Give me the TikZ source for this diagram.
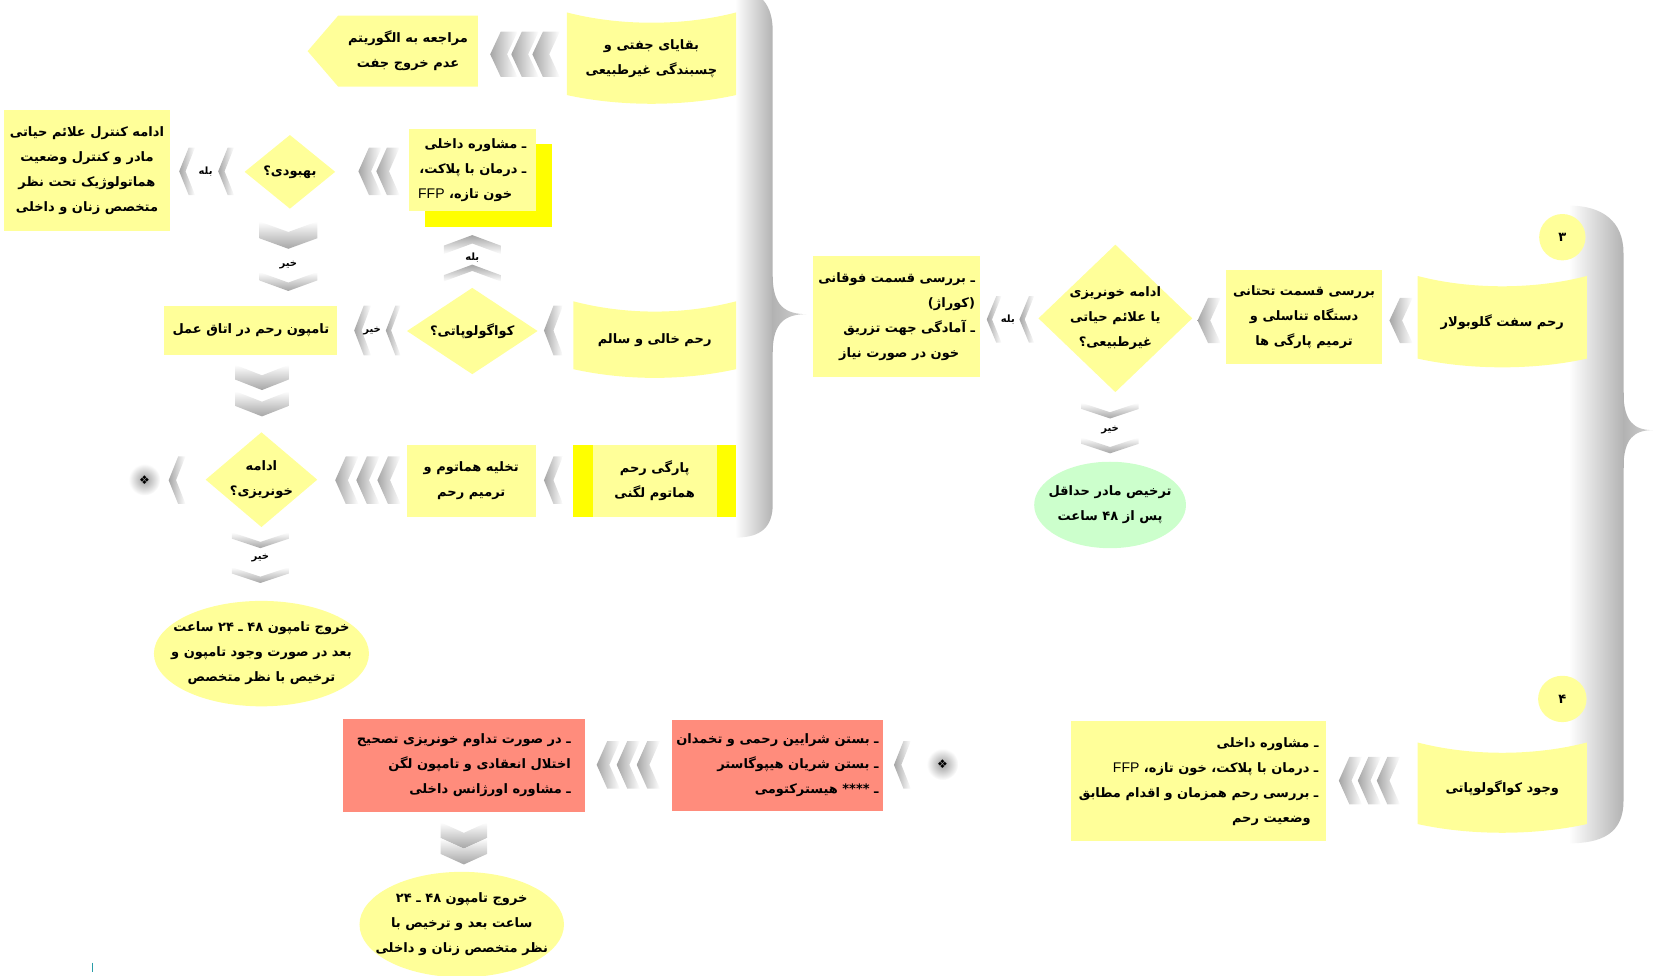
\documentclass[tikz,border=0pt]{standalone}
\usepackage{fontspec}
\usetikzlibrary{shapes.geometric,calc}
\TeXXeTstate=1
\newfontfamily\fa[Script=Arabic]{DejaVu Sans}
\newfontfamily\djv{DejaVu Sans}
\newfontfamily\lat{Liberation Sans}
\newcommand{\rl}[1]{\beginR #1\endR}
\newcommand{\ffp}{\beginL{\lat\mdseries\fontsize{14}{25}\selectfont FFP}\endL}
\definecolor{lyel}{HTML}{FFFF99}
\definecolor{byel}{HTML}{FFFF00}
\definecolor{salm}{HTML}{FF8C7C}
\definecolor{lgrn}{HTML}{CCFFCC}
\definecolor{tealmark}{HTML}{2A9DA8}
\pgfdeclarelayer{bg}
\pgfsetlayers{bg,main}
\tikzset{
  txt/.style={font=\fa\bfseries\fontsize{13}{25}\selectfont, inner sep=0pt, text=black},
  lbl/.style={font=\fa\bfseries\fontsize{10}{12}\selectfont, inner sep=0pt, text=black},
  sz/.style 2 args={minimum width={#1*1.0542pt}, minimum height={#2*1.0542pt}},
  yb/.style={txt, fill=lyel},
  rb/.style={txt, fill=salm},
  dia/.style={diamond, fill=lyel, inner sep=0pt},
  ell/.style={ellipse, fill=lyel, inner sep=0pt},
  banner/.style={txt, align=center},
  chL/.style={left color=gray!70, right color=white},
  chD/.style={top color=white, bottom color=gray!70},
  chU/.style={top color=gray!70, bottom color=white},
  glow/.style={inner color=gray!75, outer color=white},
}
% chevron pointing left: tip x, mid y, length, half height, notch depth
\newcommand{\chL}[5]{\shade[chL] (#1,#2) -- ++(#5,-#4) -- ++({#3-#5},0) -- ++(-#5,#4) -- ++(#5,#4) -- ++({#5-#3},0) -- cycle;}
% chevron pointing down: mid x, tip y, length, half width, notch depth
\newcommand{\chD}[5]{\shade[chD] (#1,#2) -- ++(-#4,-#5) -- ++(0,{#5-#3}) -- ++(#4,#5) -- ++(#4,-#5) -- ++(0,{#3-#5}) -- cycle;}
% chevron pointing up: mid x, tip y, length, half width, notch depth
\newcommand{\chU}[5]{\shade[chU] (#1,#2) -- ++(-#4,#5) -- ++(0,{#3-#5}) -- ++(#4,-#5) -- ++(#4,#5) -- ++(0,{#5-#3}) -- cycle;}
% wavy banner behind a node
\newcommand{\bannerbg}[1]{\fill[lyel] ($(#1.north west)+(0,-10)$) .. controls ($(#1.north west)+(50,3)$) and ($(#1.north east)+(-50,3)$) .. ($(#1.north east)+(0,-10)$) -- (#1.south east) .. controls ($(#1.south east)+(-50,11)$) and ($(#1.south west)+(50,11)$) .. (#1.south west) -- cycle;}

\begin{document}
\begin{tikzpicture}[x=1.0542pt,y=-1.0542pt]
\useasboundingbox (0,0) rectangle (1568,925);

% ---------- left column ----------
\node[banner, sz={160}{68}] (bq) at (618,56) {\rl{بقایای جفتی و}\\\rl{چسبندگی غیرطبیعی}};
\node[txt, align=center, sz={132}{67}] (ref) at (387,48.5) {\rl{مراجعه به الگوریتم}\\\rl{عدم خروج جفت}};

\node[yb, align=right, sz={120}{78}] (mt) at (448,161) {\rl{ـ مشاوره داخلی}\\\rl{ـ درمان با پلاکت،}\\\rl{خون تازه، \ffp}\hspace*{1.1em}};
\node[dia, sz={86}{70}] (bh) at (275,163) {};
\node[txt] (bht) at (bh) {\rl{بهبودی؟}};
\node[yb, align=center, sz={157}{115}] (ctl) at (82.5,161.5) {\rl{ادامه کنترل علائم حیاتی}\\\rl{مادر و کنترل وضعیت}\\\rl{هماتولوژیک تحت نظر}\\\rl{متخصص زنان و داخلی}};

\node[banner, sz={154}{54}] (rk) at (621,323) {\rl{رحم خالی و سالم}};
\node[dia, sz={124}{82}] (kg) at (448,314) {};
\node[txt] (kgt) at (kg) {\rl{کواگولوپاتی؟}};
\node[yb, sz={164}{47}] (tp) at (238,313.5) {\rl{تامپون رحم در اتاق عمل}};

\node[yb, align=center, sz={154}{68}] (pr) at (621,456) {\rl{پارگی رحم}\\\rl{هماتوم لگنی}};
\fill[byel] (pr.north west) rectangle ($(pr.south west)+(19,0)$);
\fill[byel] ($(pr.north east)+(-18,0)$) rectangle (pr.south east);
\node[yb, align=center, sz={122}{68}] (th) at (447,456) {\rl{تخلیه هماتوم و}\\\rl{ترمیم رحم}};
\node[dia, sz={106}{90}] (ak) at (248,455) {};
\node[txt, align=center] (akt) at (ak) {\rl{ادامه}\\\rl{خونریزی؟}};
\shade[glow] (137,455) circle (15);
\node[font=\djv\fontsize{12}{12}\selectfont, inner sep=0pt] (st1) at (137,455) {❖};
\node[ell, sz={204}{100}] (e1) at (248,620) {};
\node[txt, align=center] (e1t) at (e1) {\rl{خروج تامپون ۴۸ ـ ۲۴ ساعت}\\\rl{بعد در صورت وجود تامپون و}\\\rl{ترخیص با نظر متخصص}};

% ---------- section 3 ----------
\node[ell, sz={44}{44}] (n3) at (1482,225) {};
\node[txt] (n3t) at (n3) {۳};
\node[banner, sz={160}{68}] (rs) at (1425,306) {\rl{رحم سفت گلوبولار}};
\node[yb, align=center, sz={148}{89}] (bt) at (1237,300.5) {\rl{بررسی قسمت تحتانی}\\\rl{دستگاه تناسلی و}\\\rl{ترمیم پارگی ها}};
\node[dia, sz={146}{140}] (ak2) at (1058,302) {};
\node[txt, align=center] (ak2t) at (ak2) {\rl{ادامه خونریزی}\\\rl{یا علائم حیاتی}\\\rl{غیرطبیعی؟}};
\node[yb, align=right, sz={159}{115}] (bf) at (850.5,300.5) {\rl{ـ بررسی قسمت فوقانی}\\\rl{(کوراژ)}\hspace*{1.2em}\\\rl{ـ آمادگی جهت تزریق}\\\rl{خون در صورت نیاز}\hspace*{1.2em}};
\node[ell, fill=lgrn, sz={144}{82}] (tm) at (1053,479) {};
\node[txt, align=center] (tmt) at (tm) {\rl{ترخیص مادر حداقل}\\\rl{پس از ۴۸ ساعت}};

% ---------- section 4 ----------
\node[ell, sz={46}{44}] (n4) at (1482,663) {};
\node[txt] (n4t) at (n4) {۴};
\node[banner, sz={160}{67}] (vk) at (1425,748) {\rl{وجود کواگولوپاتی}};
\node[yb, align=right, sz={242}{114}] (md) at (1137,741) {\rl{ـ مشاوره داخلی}\\\rl{ـ درمان با پلاکت، خون تازه، \ffp}\\\rl{ـ بررسی رحم همزمان و اقدام مطابق}\\\rl{وضعیت رحم}\hspace*{0.6em}};

\shade[glow] (894,725) circle (15);
\node[font=\djv\fontsize{12}{12}\selectfont, inner sep=0pt] (st2) at (894,725) {❖};
\node[rb, align=right, sz={201}{86}] (hs) at (737.5,726) {\rl{ـ بستن شرایین رحمی و تخمدان}\\\rl{ـ بستن شریان هیپوگاستر}\\\rl{ـ **** هیسترکتومی}};
\node[rb, align=right, sz={230}{88}] (tz) at (440,726) {\rl{ـ در صورت تداوم خونریزی تصحیح}\\\rl{اختلال انعقادی و تامپون لگن}\hspace*{1.2em}\\\rl{ـ مشاوره اورژانس داخلی}};
\node[ell, sz={194}{100}] (e2) at (438,877) {};
\node[txt, align=center] (e2t) at (e2) {\rl{خروج تامپون ۴۸ ـ ۲۴}\\\rl{ساعت بعد و ترخیص با}\\\rl{نظر متخصص زنان و داخلی}};

\draw[tealmark, line width=1.3pt] (88,913) -- (88,922);

% ---------- chevron arrows ----------
\chL{465}{51.5}{26}{21.5}{10}\chL{485}{51.5}{26}{21.5}{10}\chL{505}{51.5}{26}{21.5}{10}
\chL{340}{162.5}{22}{22.5}{10}\chL{357}{162.5}{22}{22.5}{10}
\chL{170}{162.5}{15}{22.5}{9}\chL{207}{162.5}{15}{22.5}{9}
\node[lbl] (l1) at (195,163) {\rl{بله}};
\chD{273.5}{236}{26}{27.5}{10}\chD{273.5}{276}{18}{27.5}{10}
\node[lbl] (l2) at (273.5,251) {\rl{خیر}};
\chU{448}{223}{18}{27}{10}\chU{448}{251}{16}{27}{10}
\node[lbl] (l3) at (448,244) {\rl{بله}};
\chL{516}{313.5}{18}{23.5}{9}
\chL{336}{313.5}{16}{23.5}{9}\chL{366}{313.5}{14}{23.5}{9}
\node[lbl] (l4) at (353,314) {\rl{خیر}};
\chD{248.5}{370}{24}{25.5}{10}\chD{248.5}{395}{24}{25.5}{10}
\chL{516}{455.5}{18}{22.5}{9}
\chL{318}{455.5}{22}{22.5}{10}\chL{338}{455.5}{22}{22.5}{10}\chL{358}{455.5}{22}{22.5}{10}
\chL{160}{455.5}{16}{22.5}{9}
\chD{247}{520}{15}{27}{9}\chD{247}{553}{15}{27}{9}
\node[lbl] (l5) at (247,529) {\rl{خیر}};
\chL{1318}{304}{22}{21.5}{10}
\chL{1136}{304}{22}{21.5}{10}
\chL{936}{303}{14}{22}{9}\chL{967}{303}{14}{22}{9}
\node[lbl] (l6) at (956,303) {\rl{بله}};
\chD{1053}{397}{15}{27}{9}\chD{1053}{430}{15}{27}{9}
\node[lbl] (l7) at (1053,408) {\rl{خیر}};
\chL{1270}{740.5}{22}{22.5}{10}\chL{1288}{740.5}{22}{22.5}{10}\chL{1306}{740.5}{22}{22.5}{10}
\chL{848}{725.5}{16}{22.5}{9}
\chL{566}{725.5}{22}{22.5}{10}\chL{585}{725.5}{22}{22.5}{10}\chL{604}{725.5}{22}{22.5}{10}
\chD{440}{805}{25}{22}{10}\chD{440}{820}{25}{22}{10}

% ---------- background shapes ----------
\begin{pgfonlayer}{bg}
  % braces
  \shade[left color=white, right color=gray!60] (697,-10) .. controls (722,-10) and (733,5) .. (733,30) -- (733,478) .. controls (733,500) and (722,510) .. (697,510) -- cycle;
  \shade[left color=gray!60, right color=gray!35] (733,262) .. controls (733,290) and (745,298) .. (765,298) .. controls (745,298) and (733,306) .. (733,334) -- cycle;
  \shade[left color=white, right color=gray!60] (1488,195) .. controls (1520,195) and (1540,210) .. (1540,240) -- (1540,760) .. controls (1540,790) and (1520,800) .. (1488,800) -- cycle;
  \shade[left color=gray!60, right color=gray!35] (1540,372) .. controls (1540,400) and (1550,408) .. (1568,408) .. controls (1550,408) and (1540,416) .. (1540,444) -- cycle;
  % banners
  \bannerbg{bq}\bannerbg{rk}\bannerbg{rs}\bannerbg{vk}
  % pentagon arrow
  \fill[lyel] (ref.north east) -- (ref.north west) -- ($(ref.west)+(-29,0)$) -- (ref.south west) -- (ref.south east) -- cycle;
  % offset highlight
  \fill[byel] ($(mt.north west)+(15,15)$) rectangle ($(mt.south east)+(15,15)$);
\end{pgfonlayer}
\end{tikzpicture}
\end{document}
